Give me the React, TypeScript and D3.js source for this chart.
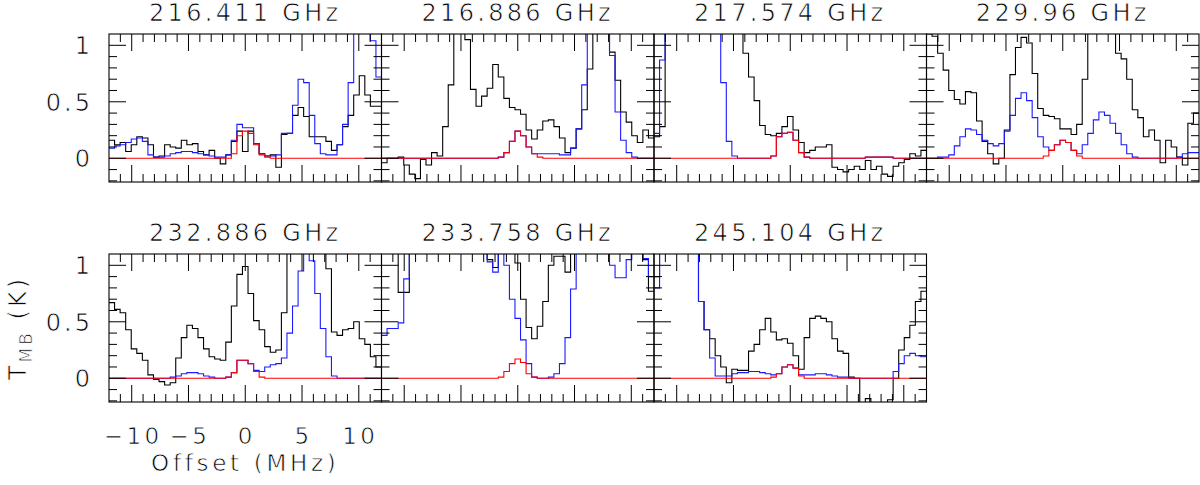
import React from "react";
import * as d3 from "d3";

// ---------- data ----------
const freqLabels = ["216.411 GHz", "216.886 GHz", "217.574 GHz", "229.96 GHz", "232.886 GHz", "233.758 GHz", "245.104 GHz"];
const offsetRange = [-12, 12];
const tempRange = [-0.21, 1.1];
const xMajorTicks = [-10, -5, 0, 5, 10];
const xTickLabels = ["\u221210", "\u22125", "0", "5", "10"];
const yMajorTicks = [0, 0.5, 1];
const yTickLabels = ["0", "0.5", "1"];

// observed spectra (black), full model (blue), line model (red); 49 channels spanning the offset range
const obs216411 = [0.16, 0.12, 0.14, 0.06, 0.12, 0.19, 0.18, 0.12, 0.01, 0.02, 0.12, 0.10, 0.09, 0.16, 0.12, 0.13, 0.06, 0.03, 0.07, 0.00, -0.05, 0.03, 0.15, 0.24, 0.06, 0.24, 0.13, 0.04, 0.02, 0.03, -0.08, 0.21, 0.22, 0.38, 0.45, 0.37, 0.19, 0.19, 0.19, 0.15, 0.07, 0.12, 0.28, 0.38, 0.56, 0.73, 0.56, 0.46, 0.46];
const full216411 = [0.09, 0.11, 0.12, 0.14, 0.17, 0.18, 0.15, 0.03, 0.01, 0.01, 0.02, 0.04, 0.05, 0.06, 0.06, 0.05, 0.04, 0.03, 0.02, 0.01, 0.01, 0.03, 0.16, 0.30, 0.27, 0.27, 0.13, 0.04, 0.02, 0.02, 0.03, 0.22, 0.22, 0.47, 0.70, 0.67, 0.38, 0.13, 0.04, 0.03, 0.03, 0.12, 0.30, 0.67, 1.3, 1.3, 1.3, 1.04, 0.72];
const line216411 = [0, 0, 0, 0, 0, 0, 0, 0, 0, 0, 0, 0, 0, 0, 0, 0, 0, 0, 0, 0, 0, 0, 0.04, 0.20, 0.24, 0.22, 0.12, 0.03, 0.01, 0, 0, 0, 0, 0, 0, 0, 0, 0, 0, 0, 0, 0, 0, 0, 0, 0, 0, 0, 0];

const obs216886 = [-0.04, 0.00, 0.00, 0.01, -0.06, -0.14, -0.18, -0.01, -0.06, 0.05, 0.02, 0.28, 0.65, 1.3, 1.3, 1.05, 0.61, 0.46, 0.55, 0.62, 0.83, 0.72, 0.53, 0.45, 0.43, 0.39, 0.25, 0.17, 0.25, 0.33, 0.34, 0.28, 0.18, 0.05, 0.09, 0.26, 0.43, 0.79, 1.3, 1.3, 1.3, 0.94, 0.69, 0.41, 0.32, 0.20, 0.14, 0.25, 0.18];
const full216886 = [0, 0, 0, 0, 0, 0, 0, 0, 0, 0, 0, 0, 0, 0, 0, 0, 0, 0, 0, 0, 0, 0.01, 0.05, 0.15, 0.24, 0.20, 0.10, 0.04, 0.04, 0.04, 0.04, 0.04, 0.03, 0.03, 0.09, 0.26, 0.65, 1.3, 1.3, 1.3, 1.3, 0.91, 0.41, 0.16, 0.05, 0.01, 0, 0, 0];
const line216886 = [0, 0, 0, 0, 0, 0, 0, 0, 0, 0, 0, 0, 0, 0, 0, 0, 0, 0, 0, 0, 0, 0.01, 0.05, 0.15, 0.24, 0.20, 0.10, 0.04, 0.01, 0, 0, 0, 0, 0, 0, 0, 0, 0, 0, 0, 0, 0, 0, 0, 0, 0, 0, 0, 0];

const obs217574 = [0.19, 0.28, 1.3, 1.3, 1.3, 1.3, 1.3, 1.3, 1.3, 1.3, 1.3, 1.3, 1.3, 1.3, 1.3, 1.3, 0.93, 0.72, 0.51, 0.29, 0.21, 0.20, 0.22, 0.28, 0.37, 0.25, 0.14, 0.05, 0.07, 0.10, 0.10, 0.12, -0.08, -0.10, -0.12, -0.10, -0.07, -0.10, -0.02, -0.10, -0.07, -0.14, -0.16, -0.07, -0.04, -0.01, 0.04, 0.02, 0.07];
const full217574 = [0.22, 0.87, 1.3, 1.3, 1.3, 1.3, 1.3, 1.3, 1.3, 1.3, 1.3, 1.3, 0.67, 0.15, 0.02, 0, 0, 0, 0, 0, 0, 0.02, 0.19, 0.22, 0.23, 0.16, 0.05, 0.01, 0, 0, 0, 0, 0, 0, 0, 0, 0, 0, 0.01, 0.01, 0.01, 0.01, 0.01, 0, 0, 0, 0, 0, 0];
const line217574 = [0, 0, 0, 0, 0, 0, 0, 0, 0, 0, 0, 0, 0, 0, 0, 0, 0, 0, 0, 0, 0, 0.02, 0.19, 0.22, 0.23, 0.16, 0.05, 0.01, 0, 0, 0, 0, 0, 0, 0, 0, 0, 0, 0.01, 0.01, 0.01, 0.01, 0.01, 0, 0, 0, 0, 0, 0];

const obs229960 = [1.10, 1.08, 0.93, 0.78, 0.60, 0.52, 0.48, 0.59, 0.58, 0.33, 0.15, 0.04, -0.05, 0.00, 0.25, 0.74, 0.98, 1.07, 1.02, 0.75, 0.44, 0.38, 0.37, 0.35, 0.26, 0.26, 0.21, 0.30, 0.70, 1.3, 1.3, 1.3, 1.3, 1.3, 0.93, 0.88, 0.70, 0.43, 0.36, 0.19, 0.25, 0.16, -0.04, 0.16, 0.10, 0.01, -0.06, 0.31, 0.40];
const full229960 = [0.00, 0.00, 0.01, 0.01, 0.03, 0.11, 0.19, 0.26, 0.25, 0.21, 0.16, 0.13, 0.11, 0.13, 0.24, 0.38, 0.53, 0.58, 0.51, 0.36, 0.19, 0.10, 0.07, 0.12, 0.16, 0.14, 0.07, 0.04, 0.12, 0.22, 0.34, 0.41, 0.38, 0.31, 0.22, 0.12, 0.04, 0.01, 0, 0, 0, 0, 0, 0, 0, 0.01, 0.04, 0.05, 0.05];
const line229960 = [0, 0, 0, 0, 0, 0, 0, 0, 0, 0, 0, 0, 0, 0, 0, 0, 0, 0, 0, 0, 0, 0.02, 0.07, 0.12, 0.16, 0.14, 0.07, 0.02, 0, 0, 0, 0, 0, 0, 0, 0, 0, 0, 0, 0, 0, 0, 0, 0, 0, 0, 0, 0, 0];

const obs232886 = [0.67, 0.61, 0.58, 0.43, 0.26, 0.22, 0.16, 0.03, -0.01, -0.03, -0.06, -0.04, 0.18, 0.36, 0.47, 0.44, 0.36, 0.26, 0.19, 0.17, 0.16, 0.32, 0.64, 0.92, 0.99, 0.75, 0.51, 0.43, 0.28, 0.23, 0.25, 0.58, 1.3, 1.3, 1.3, 1.3, 1.3, 1.3, 1.3, 0.97, 0.41, 0.38, 0.43, 0.44, 0.50, 0.35, 0.30, 0.19, 0.10];
const full232886 = [0, 0, 0, 0, 0, 0, 0, 0, 0, 0, 0, 0.01, 0.02, 0.04, 0.05, 0.05, 0.04, 0.02, 0.01, 0, 0, 0.01, 0.05, 0.16, 0.16, 0.13, 0.07, 0.06, 0.10, 0.12, 0.13, 0.18, 0.40, 0.64, 0.95, 1.3, 1.04, 0.75, 0.44, 0.19, 0.02, 0, 0, 0, 0, 0, 0, 0, 0];
const line232886 = [0, 0, 0, 0, 0, 0, 0, 0, 0, 0, 0, 0, 0, 0, 0, 0, 0, 0, 0, 0, 0, 0.01, 0.05, 0.16, 0.16, 0.13, 0.06, 0.01, 0, 0, 0, 0, 0, 0, 0, 0, 0, 0, 0, 0, 0, 0, 0, 0, 0, 0, 0, 0, 0];

const obs233758 = [1.3, 1.3, 1.3, 0.76, 0.76, 1.3, 1.3, 1.3, 1.3, 1.3, 1.3, 1.3, 1.3, 1.3, 1.3, 1.3, 1.3, 1.3, 1.3, 1.05, 0.98, 1.3, 1.3, 1.3, 1.02, 0.70, 0.45, 0.35, 0.46, 0.68, 1.0, 1.08, 1.08, 0.94, 1.3, 1.3, 1.3, 1.3, 1.3, 1.3, 1.3, 1.3, 1.3, 1.3, 1.3, 1.3, 1.3, 1.05, 0.77];
const full233758 = [0.38, 0.44, 0.44, 0.49, 0.88, 1.3, 1.3, 1.3, 1.3, 1.3, 1.3, 1.3, 1.3, 1.3, 1.3, 1.3, 1.3, 1.3, 1.3, 1.03, 0.94, 1.3, 1.0, 0.70, 0.53, 0.34, 0.13, 0.01, 0, 0, 0.01, 0.04, 0.13, 0.36, 0.79, 1.3, 1.3, 1.3, 1.3, 1.3, 1.3, 1.0, 0.89, 0.89, 1.05, 1.3, 1.3, 1.06, 0.90];
const line233758 = [0, 0, 0, 0, 0, 0, 0, 0, 0, 0, 0, 0, 0, 0, 0, 0, 0, 0, 0, 0, 0, 0.01, 0.06, 0.13, 0.17, 0.14, 0.04, 0.01, 0, 0, 0, 0, 0, 0, 0, 0, 0, 0, 0, 0, 0, 0, 0, 0, 0, 0, 0, 0, 0];

const obs245104 = [0.90, 1.3, 1.3, 1.3, 1.3, 1.3, 1.3, 1.3, 0.68, 0.43, 0.35, 0.20, 0.10, -0.04, 0.08, 0.07, 0.07, 0.24, 0.30, 0.43, 0.53, 0.41, 0.34, 0.35, 0.31, 0.20, 0.08, 0.36, 0.53, 0.55, 0.53, 0.50, 0.35, 0.24, 0.22, 0.01, 0.00, -0.3, -0.18, -0.3, -0.3, -0.3, -0.19, 0.00, 0.25, 0.36, 0.47, 0.68, 0.77];
const full245104 = [0.80, 1.3, 1.3, 1.3, 1.3, 1.3, 1.3, 1.3, 0.68, 0.43, 0.18, 0.02, 0.02, 0.02, 0.04, 0.05, 0.05, 0.06, 0.06, 0.05, 0.04, 0.03, 0.04, 0.10, 0.12, 0.09, 0.03, 0.03, 0.03, 0.04, 0.04, 0.03, 0.02, 0.01, 0.01, 0, 0, 0, 0, 0, 0, 0, 0, 0.06, 0.13, 0.20, 0.22, 0.20, 0.19];
const line245104 = [0, 0, 0, 0, 0, 0, 0, 0, 0, 0, 0, 0, 0, 0, 0, 0, 0, 0, 0, 0, 0, 0.01, 0.04, 0.10, 0.12, 0.09, 0.02, 0, 0, 0, 0, 0, 0, 0, 0, 0, 0, 0, 0, 0, 0, 0, 0, 0, 0, 0, 0, 0, 0];

const panels = [
  { label: freqLabels[0], obs: obs216411, full: full216411, line: line216411 },
  { label: freqLabels[1], obs: obs216886, full: full216886, line: line216886 },
  { label: freqLabels[2], obs: obs217574, full: full217574, line: line217574 },
  { label: freqLabels[3], obs: obs229960, full: full229960, line: line229960 },
  { label: freqLabels[4], obs: obs232886, full: full232886, line: line232886 },
  { label: freqLabels[5], obs: obs233758, full: full233758, line: line233758 },
  { label: freqLabels[6], obs: obs245104, full: full245104, line: line245104 },
];

// ---------- layout ----------
const W = 1200;
const H = 485;
const LEFT = 109;
const PW = 272.5;
const PH = 148;
const ROW_TOP = [34, 254];
const FONT = "'DejaVu Sans', sans-serif";
const MAJOR = 17;
const MINOR = 8;
// thin the glyph strokes a little (the reference uses a thin stroked font)
const thinText = { stroke: "#fff", strokeWidth: 0.75, fill: "#000" };

function stepPoints(vals: number[]): [number, number][] {
  const [lo, hi] = offsetRange;
  const n = vals.length;
  const pts: [number, number][] = vals.map((v, k) => [lo + ((hi - lo) * k) / n, v]);
  pts.push([hi, vals[n - 1]]);
  return pts;
}

function Panel({ idx }: { idx: number }) {
  const p = panels[idx];
  const row = idx < 4 ? 0 : 1;
  const col = idx < 4 ? idx : idx - 4;
  const x0 = LEFT + col * PW;
  const y0 = ROW_TOP[row];
  const x = d3.scaleLinear().domain(offsetRange).range([x0, x0 + PW]);
  const y = d3.scaleLinear().domain(tempRange).range([y0 + PH, y0]);
  const line = d3
    .line<[number, number]>()
    .x((d) => x(d[0]))
    .y((d) => y(d[1]))
    .curve(d3.curveStepAfter);
  const clipId = `clip${idx}`;
  const xMinor = d3.range(-11, 12, 1).filter((t) => !xMajorTicks.includes(t));
  const yMinor = d3.range(-2, 11, 1).map((t) => t / 10).filter((t) => !yMajorTicks.includes(t));
  const tickStroke = { stroke: "#000", strokeWidth: 1 };
  return (
    <g>
      <defs>
        <clipPath id={clipId}>
          <rect x={x0} y={y0} width={PW} height={PH} />
        </clipPath>
      </defs>
      <g clipPath={`url(#${clipId})`} fill="none">
        <path d={line(stepPoints(p.obs)) || ""} stroke="#000" strokeWidth={1.1} />
        <path d={line(stepPoints(p.full)) || ""} stroke="#1a1aff" strokeWidth={1.1} />
        <path d={line(stepPoints(p.line)) || ""} stroke="#ff0000" strokeWidth={1.1} />
      </g>
      {xMajorTicks.map((t) => (
        <g key={`xM${t}`} {...tickStroke}>
          <line x1={x(t)} x2={x(t)} y1={y0 + PH} y2={y0 + PH - MAJOR} />
          <line x1={x(t)} x2={x(t)} y1={y0} y2={y0 + MAJOR} />
        </g>
      ))}
      {xMinor.map((t) => (
        <g key={`xm${t}`} {...tickStroke}>
          <line x1={x(t)} x2={x(t)} y1={y0 + PH} y2={y0 + PH - MINOR} />
          <line x1={x(t)} x2={x(t)} y1={y0} y2={y0 + MINOR} />
        </g>
      ))}
      {yMajorTicks.map((t) => (
        <g key={`yM${t}`} {...tickStroke}>
          <line x1={x0} x2={x0 + MAJOR} y1={y(t)} y2={y(t)} />
          <line x1={x0 + PW} x2={x0 + PW - MAJOR} y1={y(t)} y2={y(t)} />
        </g>
      ))}
      {yMinor.map((t) => (
        <g key={`ym${t}`} {...tickStroke}>
          <line x1={x0} x2={x0 + MINOR} y1={y(t)} y2={y(t)} />
          <line x1={x0 + PW} x2={x0 + PW - MINOR} y1={y(t)} y2={y(t)} />
        </g>
      ))}
      <rect x={x0} y={y0} width={PW} height={PH} fill="none" stroke="#000" strokeWidth={1.1} />
      <text
        x={x0 + PW / 2}
        y={y0 - 13}
        textAnchor="middle"
        fontFamily={FONT}
        fontSize={24}
        letterSpacing={3.3}
        {...thinText}
      >
        {p.label}
      </text>
      {col === 0 &&
        yMajorTicks.map((t, i) => (
          <text
            key={`yl${t}`}
            x={x0 - 16}
            y={y(t) + 9}
            textAnchor="end"
            fontFamily={FONT}
            fontSize={24}
            letterSpacing={3}
            {...thinText}
          >
            {yTickLabels[i]}
          </text>
        ))}
      {row === 1 && col === 0 &&
        xMajorTicks.map((t, i) => (
          <text
            key={`xl${t}`}
            x={x(t) + 1.5}
            y={y0 + PH + 42}
            textAnchor="middle"
            fontFamily={FONT}
            fontSize={23}
            letterSpacing={3.4}
            {...thinText}
          >
            {xTickLabels[i]}
          </text>
        ))}
    </g>
  );
}

export default function App() {
  return (
    <svg
      width={W}
      height={H}
      viewBox={`0 0 ${W} ${H}`}
      style={{ position: "absolute", left: 0, top: 0, background: "#fff", display: "block" }}
    >
      <rect x={0} y={0} width={W} height={H} fill="#fff" />
      {panels.map((_, i) => (
        <Panel key={i} idx={i} />
      ))}
      <text
        x={LEFT + PW / 2}
        y={471}
        textAnchor="middle"
        fontFamily={FONT}
        fontSize={23}
        letterSpacing={3.7}
        {...thinText}
      >
        Offset (MHz)
      </text>
      <text
        transform="translate(26, 328) rotate(-90)"
        textAnchor="middle"
        fontFamily={FONT}
        fontSize={24}
        letterSpacing={3}
        {...thinText}
      >
        T
        <tspan fontSize={17} dy={6}>
          MB
        </tspan>
        <tspan dy={-6}> (K)</tspan>
      </text>
    </svg>
  );
}
